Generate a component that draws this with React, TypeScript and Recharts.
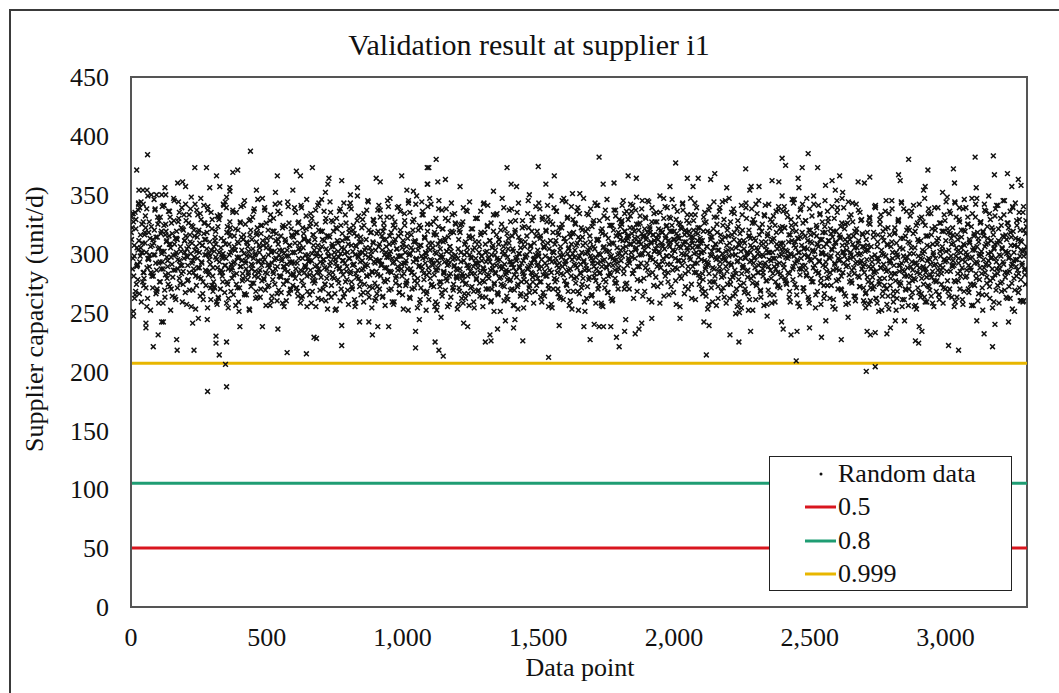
import { ScatterChart, Scatter, XAxis, YAxis, ReferenceLine, ReferenceArea, Legend } from 'recharts'

// axis ticks
const xTicks = [0, 500, 1000, 1500, 2000, 2500, 3000]
const yTicks = [0, 50, 100, 150, 200, 250, 300, 350, 400, 450]

// horizontal threshold lines
const thresholdLabels = ['0.5', '0.8', '0.999']
const thresholdValues = [50, 105, 207]
const scatterName = 'Random data'

// dense band of the cloud, lists per 300 data points (y values, in order)
const segmentStarts = [0, 300, 600, 900, 1200, 1500, 1800, 2100, 2400, 2700, 3000]
const segmentSpan = 300

const coreY0 = [312, 287, 334, 298, 265, 321, 305, 278, 342, 293, 316, 259, 301, 327, 284, 309, 271, 338, 296, 318, 289, 252, 323, 307, 281, 346, 299, 314, 268, 331, 292, 305, 276, 319, 340, 287, 302, 263, 325, 311, 294, 283, 336, 308, 270, 317, 299, 328, 286, 261, 313, 295, 344, 279, 306, 322, 290, 274, 333, 301, 315, 257, 297, 326, 284, 310, 348, 292, 269, 320, 303, 281, 337, 296, 318, 288, 264, 329, 307, 276, 341, 299, 312, 285, 254, 324, 300, 291, 335, 273]
const coreY1 = [288, 306, 271, 319, 295, 332, 262, 301, 284, 313, 297, 276, 341, 290, 308, 258, 323, 287, 299, 315, 268, 304, 337, 282, 293, 321, 274, 310, 296, 251, 327, 289, 303, 279, 316, 345, 292, 265, 309, 284, 328, 298, 272, 312, 290, 336, 281, 300, 318, 263, 294, 307, 286, 324, 277, 311, 297, 339, 269, 305, 283, 320, 291, 256, 314, 302, 278, 330, 295, 287, 317, 266, 308, 299, 343, 280, 296, 322, 274, 289, 312, 260, 303, 285, 326, 293, 270, 316, 301, 282]
const coreY2 = [301, 279, 318, 292, 264, 327, 305, 286, 339, 296, 273, 312, 288, 321, 255, 299, 310, 282, 334, 294, 268, 316, 303, 277, 325, 290, 307, 343, 284, 298, 261, 319, 295, 311, 274, 330, 287, 302, 266, 314, 293, 328, 280, 306, 297, 252, 322, 289, 309, 275, 336, 300, 285, 317, 263, 304, 292, 326, 278, 313, 296, 340, 283, 307, 270, 320, 291, 299, 258, 315, 286, 332, 301, 276, 310, 294, 267, 324, 289, 305, 281, 345, 297, 272, 318, 302, 285, 329, 293, 260]
const coreY3 = [295, 317, 282, 306, 270, 331, 291, 303, 264, 322, 288, 312, 297, 278, 340, 300, 285, 318, 259, 309, 293, 327, 275, 304, 289, 315, 267, 336, 298, 281, 311, 292, 324, 273, 306, 287, 345, 299, 262, 316, 284, 303, 329, 277, 310, 295, 254, 320, 290, 307, 271, 333, 296, 283, 314, 301, 266, 325, 288, 309, 279, 342, 294, 305, 272, 318, 286, 300, 257, 323, 292, 311, 276, 337, 297, 284, 313, 269, 302, 290, 328, 281, 306, 263, 319, 295, 274, 334, 299, 287]
const coreY4 = [286, 304, 271, 318, 293, 262, 327, 281, 299, 310, 275, 336, 290, 256, 313, 297, 283, 321, 268, 305, 292, 279, 330, 288, 301, 264, 316, 294, 277, 342, 285, 308, 270, 323, 296, 282, 311, 259, 299, 287, 319, 274, 303, 290, 334, 266, 312, 295, 280, 325, 289, 306, 272, 300, 284, 317, 261, 309, 293, 278, 338, 291, 302, 269, 320, 285, 297, 253, 314, 288, 305, 276, 328, 294, 281, 310, 265, 299, 287, 322, 273, 307, 292, 283, 331, 296, 268, 315, 290, 279]
const coreY5 = [298, 276, 315, 289, 331, 267, 305, 292, 320, 281, 309, 255, 296, 327, 284, 302, 270, 339, 293, 311, 278, 318, 288, 263, 306, 297, 325, 282, 313, 291, 344, 273, 300, 286, 317, 260, 308, 295, 329, 279, 303, 290, 336, 268, 314, 298, 284, 322, 274, 307, 293, 251, 319, 287, 301, 333, 280, 310, 296, 265, 326, 289, 304, 277, 341, 292, 312, 283, 299, 258, 321, 294, 306, 271, 316, 288, 330, 281, 302, 297, 262, 324, 290, 309, 275, 337, 295, 285, 318, 300]
const coreY6 = [312, 294, 328, 305, 283, 319, 301, 336, 290, 315, 270, 322, 308, 297, 341, 286, 313, 303, 325, 278, 310, 299, 332, 292, 317, 264, 306, 321, 288, 314, 345, 300, 282, 318, 309, 327, 295, 273, 311, 304, 335, 289, 316, 302, 258, 320, 307, 293, 330, 285, 313, 298, 339, 276, 308, 319, 291, 324, 303, 267, 312, 296, 329, 287, 315, 306, 281, 322, 300, 343, 294, 310, 272, 318, 305, 289, 326, 297, 314, 262, 309, 320, 284, 333, 301, 292, 317, 306, 279, 311]
const coreY7 = [301, 283, 319, 294, 268, 327, 306, 290, 337, 276, 312, 298, 259, 321, 287, 308, 295, 331, 272, 303, 289, 316, 280, 344, 297, 263, 314, 302, 285, 323, 292, 309, 274, 335, 299, 282, 318, 266, 305, 293, 328, 278, 311, 296, 254, 320, 288, 304, 270, 339, 300, 286, 315, 261, 307, 294, 326, 281, 313, 297, 342, 275, 303, 290, 322, 268, 310, 299, 284, 333, 292, 306, 257, 317, 289, 301, 329, 279, 312, 296, 265, 324, 287, 308, 273, 340, 298, 283, 319, 302]
const coreY8 = [305, 288, 322, 297, 274, 331, 310, 283, 316, 299, 346, 278, 307, 292, 325, 265, 313, 301, 287, 337, 296, 318, 271, 304, 290, 328, 281, 311, 298, 258, 320, 294, 309, 276, 342, 302, 285, 315, 268, 306, 293, 334, 279, 312, 300, 262, 323, 289, 308, 273, 330, 297, 284, 317, 303, 255, 319, 291, 310, 277, 339, 296, 286, 314, 270, 326, 301, 292, 321, 264, 307, 295, 344, 282, 312, 299, 275, 327, 288, 305, 260, 318, 293, 309, 280, 335, 300, 287, 316, 271]
const coreY9 = [291, 266, 312, 280, 303, 257, 325, 287, 297, 270, 318, 284, 339, 262, 306, 293, 276, 329, 288, 252, 314, 299, 273, 321, 285, 308, 264, 334, 292, 279, 310, 296, 259, 317, 283, 301, 268, 327, 290, 305, 275, 343, 286, 298, 261, 315, 294, 281, 322, 270, 309, 289, 336, 277, 300, 255, 319, 292, 284, 312, 267, 330, 296, 279, 303, 289, 263, 324, 287, 307, 273, 338, 295, 282, 316, 258, 301, 290, 320, 276, 311, 286, 265, 326, 298, 283, 306, 271, 333, 293]
const coreY10 = [302, 285, 321, 296, 270, 334, 308, 289, 316, 277, 343, 298, 263, 312, 292, 327, 281, 305, 295, 338, 268, 319, 301, 286, 331, 290, 309, 274, 323, 297, 256, 315, 303, 283, 347, 292, 310, 278, 326, 299, 265, 318, 288, 306, 336, 280, 313, 294, 272, 329, 301, 287, 320, 259, 308, 296, 341, 283, 311, 290, 275, 324, 305, 293, 333, 269, 316, 300, 284, 322, 297, 262, 314, 291, 339, 279, 307, 295, 328, 286, 312, 271, 320, 303, 290, 335, 298, 282, 317, 306]

// second pass over the same segments
const denseY0 = [318, 322, 296, 281, 307, 335, 329, 274, 290, 303, 311, 266, 298, 344, 325, 309, 284, 279, 316, 332, 301, 288, 262, 295, 327, 313, 306, 350, 283, 271, 299, 320, 338, 292, 286, 314, 304, 258, 276, 331, 317, 300, 293, 341, 324, 269, 282, 310, 297, 289, 336, 315, 272, 305, 326, 291, 280, 347, 308, 263, 299, 319, 312, 287, 330, 294, 275, 302, 339, 321, 285, 296, 311, 267, 328, 304, 290, 278, 333, 316, 300, 255, 309, 323, 284, 297, 342, 306, 273, 314, 288, 320, 301, 334, 279, 293, 307, 261, 326, 312, 286, 299, 318, 337, 282, 295, 310, 271, 303, 329]
const denseY1 = [281, 276, 302, 314, 297, 259, 288, 323, 331, 293, 270, 305, 299, 284, 342, 311, 267, 290, 296, 318, 274, 262, 308, 327, 301, 286, 279, 335, 292, 315, 303, 256, 283, 297, 320, 309, 271, 289, 340, 294, 277, 312, 300, 265, 325, 287, 298, 306, 282, 253, 316, 329, 291, 275, 304, 296, 338, 285, 268, 310, 322, 280, 293, 301, 263, 317, 290, 347, 307, 278, 295, 284, 326, 313, 272, 299, 288, 305, 333, 260, 292, 319, 283, 302, 274, 311, 296, 289, 336, 269, 303, 281, 315, 294, 258, 324, 300, 286, 310, 277, 291, 344, 298, 266, 307, 282, 321, 293, 273, 314]
const denseY2 = [292, 309, 287, 271, 318, 326, 296, 283, 302, 341, 277, 264, 305, 313, 290, 299, 332, 281, 268, 311, 294, 323, 286, 258, 300, 316, 307, 275, 289, 337, 298, 284, 262, 320, 303, 293, 280, 346, 312, 270, 295, 288, 327, 304, 279, 253, 315, 298, 290, 335, 273, 306, 284, 319, 301, 266, 292, 330, 311, 278, 297, 287, 260, 324, 305, 294, 282, 343, 300, 276, 313, 289, 269, 308, 321, 296, 285, 338, 272, 302, 291, 317, 255, 283, 306, 328, 298, 279, 310, 293, 265, 322, 301, 287, 334, 274, 299, 312, 281, 290, 344, 263, 305, 296, 318, 284, 271, 309, 325, 292]
const denseY3 = [303, 285, 272, 319, 294, 308, 337, 281, 290, 263, 312, 326, 299, 276, 306, 288, 345, 297, 269, 315, 302, 284, 331, 292, 257, 310, 322, 279, 295, 304, 286, 340, 273, 298, 317, 291, 265, 308, 283, 328, 301, 294, 277, 313, 252, 299, 335, 287, 305, 270, 320, 293, 282, 311, 342, 296, 275, 303, 289, 324, 261, 307, 298, 286, 333, 278, 314, 292, 300, 268, 319, 305, 284, 347, 295, 273, 309, 290, 327, 282, 301, 259, 316, 294, 288, 338, 276, 304, 297, 267, 321, 310, 285, 293, 330, 279, 302, 255, 314, 291, 306, 283, 343, 298, 271, 318, 289, 296, 325, 280]
const denseY4 = [279, 296, 312, 268, 287, 301, 325, 283, 258, 294, 308, 274, 337, 290, 281, 266, 315, 299, 285, 321, 272, 303, 289, 254, 310, 296, 278, 330, 292, 269, 306, 284, 318, 298, 263, 288, 343, 276, 301, 293, 281, 324, 270, 297, 311, 286, 260, 305, 290, 333, 275, 299, 283, 316, 267, 294, 308, 279, 251, 320, 287, 302, 273, 339, 291, 282, 309, 264, 297, 313, 285, 277, 327, 293, 270, 304, 288, 256, 318, 296, 280, 335, 274, 300, 289, 311, 266, 292, 322, 283, 278, 306, 298, 261, 315, 287, 345, 271, 302, 290, 284, 328, 276, 295, 309, 268, 299, 282, 319, 291]
const denseY5 = [300, 287, 313, 276, 295, 329, 282, 306, 264, 298, 319, 290, 341, 273, 304, 286, 311, 257, 293, 325, 301, 279, 308, 296, 336, 284, 270, 316, 292, 303, 262, 322, 289, 299, 347, 277, 310, 294, 285, 331, 268, 305, 297, 314, 281, 253, 300, 318, 291, 326, 275, 307, 288, 339, 296, 266, 312, 283, 301, 320, 279, 294, 259, 309, 290, 334, 272, 303, 286, 315, 298, 264, 323, 292, 306, 280, 343, 297, 287, 311, 270, 300, 328, 284, 293, 256, 317, 305, 278, 295, 337, 289, 302, 267, 313, 291, 324, 282, 298, 309, 261, 320, 294, 286, 332, 275, 305, 299, 288, 316]
const denseY6 = [316, 303, 325, 298, 311, 287, 334, 319, 306, 275, 313, 329, 294, 308, 342, 301, 317, 283, 322, 310, 296, 337, 305, 268, 314, 320, 289, 326, 308, 299, 345, 315, 279, 303, 331, 312, 292, 318, 306, 261, 323, 297, 310, 339, 284, 316, 302, 327, 293, 313, 307, 272, 321, 300, 335, 288, 309, 318, 296, 347, 304, 281, 315, 324, 291, 311, 265, 306, 330, 298, 319, 286, 312, 340, 302, 277, 317, 308, 294, 326, 313, 255, 305, 321, 290, 337, 299, 316, 283, 310, 328, 303, 270, 319, 307, 295, 333, 311, 289, 314, 300, 343, 318, 284, 306, 322, 297, 274, 313, 309]
const denseY7 = [295, 311, 278, 302, 326, 287, 264, 306, 319, 292, 283, 340, 299, 271, 314, 288, 305, 331, 276, 297, 256, 318, 303, 285, 336, 293, 310, 268, 300, 324, 281, 296, 345, 289, 307, 274, 315, 298, 262, 327, 291, 304, 280, 338, 312, 286, 299, 270, 321, 294, 308, 259, 317, 302, 283, 333, 290, 275, 309, 297, 343, 285, 301, 266, 320, 293, 313, 279, 305, 252, 329, 296, 288, 311, 273, 334, 300, 284, 316, 292, 263, 307, 325, 281, 298, 290, 341, 277, 303, 315, 269, 295, 322, 286, 310, 258, 301, 332, 289, 296, 276, 318, 304, 284, 337, 292, 271, 309, 299, 323]
const denseY8 = [309, 291, 322, 277, 303, 335, 296, 284, 316, 268, 300, 329, 311, 287, 343, 298, 274, 305, 319, 293, 258, 313, 301, 282, 338, 307, 290, 326, 271, 299, 315, 286, 347, 304, 263, 320, 295, 310, 279, 332, 302, 288, 317, 297, 254, 324, 308, 283, 341, 294, 312, 275, 301, 327, 290, 306, 266, 318, 299, 285, 336, 311, 280, 296, 321, 273, 304, 314, 261, 330, 292, 309, 287, 345, 300, 278, 316, 295, 323, 269, 307, 284, 339, 298, 312, 257, 303, 326, 290, 315, 276, 301, 333, 286, 308, 297, 264, 319, 292, 342, 305, 281, 311, 299, 272, 328, 294, 317, 289, 306]
const denseY9 = [284, 302, 267, 295, 318, 276, 289, 331, 260, 306, 293, 280, 314, 272, 299, 341, 285, 258, 310, 296, 274, 325, 288, 303, 264, 319, 291, 279, 336, 298, 270, 307, 286, 253, 316, 294, 283, 345, 301, 268, 290, 322, 277, 309, 262, 297, 328, 285, 273, 313, 292, 255, 304, 338, 281, 296, 269, 320, 288, 310, 275, 300, 332, 263, 293, 286, 317, 279, 305, 256, 324, 290, 271, 298, 342, 283, 311, 266, 295, 327, 287, 302, 259, 315, 280, 294, 334, 272, 306, 291, 264, 321, 285, 299, 277, 339, 296, 268, 308, 282, 313, 261, 290, 326, 274, 303, 288, 319, 295, 270]
const denseY10 = [311, 294, 277, 318, 303, 336, 285, 298, 263, 322, 309, 290, 344, 276, 305, 316, 283, 296, 329, 270, 301, 314, 288, 257, 320, 307, 293, 339, 281, 299, 325, 267, 310, 296, 286, 347, 303, 274, 317, 292, 331, 279, 306, 260, 313, 298, 288, 327, 302, 271, 319, 295, 342, 284, 308, 265, 323, 300, 290, 334, 277, 311, 297, 254, 316, 305, 282, 338, 293, 309, 273, 321, 299, 287, 330, 268, 304, 315, 291, 345, 280, 302, 312, 262, 326, 296, 285, 318, 307, 275, 340, 294, 301, 269, 313, 289, 324, 306, 283, 335, 298, 278, 310, 292, 259, 320, 303, 287, 328, 300]

// third pass, fills the edges of the band
const fillY0 = [331, 334, 327, 262, 268, 289, 291, 343, 339, 305, 301, 276, 273, 318, 322, 255, 349, 296, 299, 284, 281, 312, 309, 337, 266, 270, 325, 328, 293, 287, 302, 258, 341, 316, 319, 279, 274, 308, 331, 297, 264, 286, 345, 313, 301, 271, 327, 335, 290, 283, 259, 320, 311, 342, 298, 277, 306, 269, 338, 324, 294, 287, 315, 253, 302, 333, 280, 309, 347, 292, 266, 317, 326, 273, 304, 340, 285, 298, 261, 321]
const fillY1 = [268, 272, 311, 308, 257, 263, 329, 333, 286, 281, 300, 297, 344, 339, 276, 254, 318, 322, 291, 288, 265, 306, 303, 335, 271, 259, 297, 326, 314, 283, 341, 266, 294, 310, 278, 302, 252, 320, 287, 331, 275, 299, 262, 316, 346, 284, 305, 270, 324, 293, 279, 337, 256, 309, 290, 273, 328, 301, 264, 285, 319, 342, 296, 260, 312, 281, 334, 267, 303, 289, 255, 323, 298, 277, 340, 307, 269, 292, 315, 283]
const fillY2 = [339, 335, 271, 268, 304, 309, 258, 262, 322, 317, 284, 289, 346, 296, 293, 265, 326, 330, 277, 281, 312, 255, 300, 341, 287, 269, 319, 306, 292, 336, 274, 260, 315, 298, 283, 344, 263, 308, 327, 279, 295, 253, 321, 302, 288, 338, 270, 311, 294, 266, 333, 285, 301, 257, 318, 343, 276, 290, 324, 261, 307, 280, 349, 297, 272, 314, 286, 329, 259, 303, 291, 337, 267, 320, 282, 299, 254, 310, 328, 275]
const fillY3 = [262, 266, 337, 341, 294, 290, 315, 319, 277, 256, 301, 331, 285, 308, 347, 270, 296, 324, 259, 312, 281, 339, 298, 267, 320, 287, 305, 253, 334, 292, 275, 317, 343, 263, 300, 284, 327, 310, 271, 295, 349, 279, 306, 258, 322, 289, 336, 268, 313, 297, 282, 340, 261, 303, 325, 274, 292, 316, 255, 330, 286, 308, 345, 272, 299, 264, 321, 283, 311, 338, 277, 294, 257, 318, 302, 333, 269, 290, 326, 281]
const fillY4 = [253, 257, 320, 324, 281, 277, 339, 266, 262, 301, 305, 288, 344, 271, 296, 314, 259, 283, 330, 292, 268, 310, 275, 336, 298, 255, 287, 318, 263, 302, 341, 279, 293, 326, 270, 307, 251, 284, 333, 296, 265, 312, 289, 274, 347, 299, 260, 321, 286, 278, 304, 337, 269, 291, 315, 256, 282, 328, 294, 272, 343, 300, 264, 310, 285, 254, 323, 297, 276, 334, 289, 267, 306, 319, 280, 258, 295, 340, 273, 303]
const fillY5 = [343, 338, 263, 259, 310, 306, 285, 281, 327, 331, 270, 295, 349, 254, 318, 301, 276, 336, 290, 266, 322, 299, 283, 345, 261, 313, 293, 274, 330, 304, 256, 287, 340, 317, 268, 297, 325, 280, 309, 252, 334, 291, 271, 314, 347, 286, 300, 262, 321, 278, 305, 338, 265, 294, 328, 283, 258, 312, 341, 273, 299, 319, 289, 255, 332, 303, 276, 346, 267, 308, 284, 324, 260, 296, 337, 279, 315, 292, 270, 329]
const fillY6 = [323, 327, 341, 345, 270, 274, 311, 315, 296, 292, 332, 336, 283, 262, 319, 304, 348, 289, 325, 310, 277, 338, 300, 314, 268, 330, 307, 286, 344, 321, 296, 259, 316, 334, 302, 280, 327, 312, 291, 349, 275, 318, 306, 264, 340, 323, 298, 284, 331, 310, 272, 346, 303, 319, 288, 257, 336, 313, 294, 325, 279, 342, 308, 266, 320, 299, 333, 285, 316, 347, 274, 305, 328, 292, 261, 339, 311, 282, 322, 301]
const fillY7 = [270, 266, 331, 335, 289, 293, 253, 257, 318, 314, 302, 276, 344, 281, 308, 325, 262, 297, 339, 285, 312, 271, 329, 294, 258, 320, 303, 347, 278, 290, 316, 264, 334, 299, 283, 255, 323, 307, 273, 341, 288, 311, 267, 296, 330, 280, 252, 315, 301, 338, 275, 292, 326, 261, 305, 284, 345, 298, 269, 319, 287, 256, 332, 310, 277, 301, 342, 265, 294, 327, 283, 313, 259, 336, 291, 272, 306, 322, 280, 349]
const fillY8 = [336, 340, 279, 275, 302, 298, 263, 259, 324, 320, 289, 346, 310, 271, 295, 331, 255, 314, 287, 342, 268, 305, 328, 282, 297, 261, 338, 316, 276, 303, 349, 290, 265, 322, 308, 284, 333, 257, 300, 318, 273, 345, 293, 279, 327, 311, 262, 298, 340, 286, 306, 253, 319, 335, 270, 294, 313, 281, 347, 302, 266, 325, 289, 310, 258, 331, 296, 277, 343, 315, 283, 264, 321, 300, 337, 272, 292, 329, 306, 260]
const fillY9 = [258, 254, 303, 307, 326, 330, 271, 275, 289, 285, 340, 262, 296, 316, 251, 279, 333, 300, 268, 311, 287, 345, 257, 322, 294, 273, 306, 338, 264, 283, 318, 252, 299, 329, 276, 290, 344, 261, 313, 285, 270, 336, 297, 256, 320, 281, 305, 267, 341, 292, 278, 253, 326, 310, 288, 263, 331, 300, 274, 347, 284, 259, 315, 296, 269, 334, 280, 308, 255, 323, 291, 277, 339, 265, 302, 286, 319, 258, 295, 328]
const fillY10 = [344, 348, 268, 264, 317, 313, 290, 294, 255, 259, 331, 302, 277, 339, 285, 320, 261, 308, 346, 280, 297, 325, 270, 312, 288, 256, 334, 305, 273, 342, 293, 318, 266, 300, 327, 283, 252, 315, 337, 291, 275, 309, 349, 262, 296, 322, 279, 304, 332, 269, 287, 341, 258, 310, 298, 276, 345, 314, 284, 263, 326, 301, 272, 336, 289, 253, 319, 307, 343, 281, 295, 267, 329, 311, 260, 302, 340, 286, 274, 323]

// scattered points above the band, [data point, capacity]
const upperPoints = [
  [61, 384], [21, 371], [440, 387], [235, 373], [278, 373], [668, 373], [1091, 373], [375, 369], [393, 371], [315, 366],
  [539, 366], [609, 370], [624, 366], [729, 364], [776, 362], [903, 364], [918, 361], [997, 366], [29, 354], [44, 354],
  [59, 354], [125, 356], [172, 360], [190, 361], [201, 357], [94, 350], [113, 350], [128, 350], [290, 356], [327, 357],
  [364, 356], [364, 353], [352, 348], [462, 354], [532, 352], [596, 354], [716, 352], [725, 359], [834, 356], [808, 350],
  [1016, 354], [1040, 353], [1091, 359], [45, 342], [27, 337], [1124, 380], [1097, 373], [1385, 373], [1500, 374], [1724, 382],
  [2006, 377], [1559, 366], [1831, 366], [1861, 364], [2049, 364], [2089, 364], [2135, 363], [2150, 368], [1130, 361], [1158, 363],
  [1093, 359], [1400, 359], [1420, 357], [1212, 357], [1335, 353], [1528, 359], [1739, 359], [1779, 360], [1985, 357], [2070, 357],
  [1467, 350], [1626, 351], [1653, 351], [1071, 344], [2494, 385], [2398, 381], [2411, 375], [2264, 372], [2472, 373], [2529, 373],
  [2864, 380], [2935, 371], [3029, 372], [3109, 382], [3176, 383], [3180, 367], [3228, 368], [2194, 356], [2361, 362], [2386, 361],
  [2457, 364], [2460, 356], [2582, 362], [2610, 366], [2678, 361], [2701, 360], [2721, 365], [2827, 367], [2833, 362], [3033, 360],
  [3268, 363], [3278, 358], [3244, 357], [2279, 354], [2313, 357], [2284, 357], [2558, 358], [2594, 354], [2621, 352], [2919, 354],
  [2925, 357], [2989, 352], [3113, 356],
]

// scattered points below the band
const lowerPoints = [
  [282, 183], [352, 187], [348, 206], [325, 214], [313, 230], [313, 224], [352, 225], [82, 221], [168, 227], [170, 218],
  [232, 218], [100, 231], [55, 241], [55, 237], [113, 242], [119, 242], [227, 241], [575, 216], [646, 215], [674, 229],
  [683, 228], [541, 236], [484, 238], [401, 238], [776, 222], [776, 239], [889, 231], [842, 242], [876, 242], [909, 238],
  [949, 238], [1048, 220], [1048, 234], [146, 252], [248, 245], [281, 244], [9, 251], [9, 247], [1120, 225], [1134, 218],
  [1150, 213], [1305, 225], [1326, 226], [1322, 231], [1443, 226], [1538, 212], [1691, 227], [1788, 229], [1798, 221], [2119, 214],
  [1142, 246], [1350, 236], [1409, 237], [1414, 244], [1379, 243], [1225, 241], [1240, 238], [1577, 239], [1668, 238], [1706, 240],
  [1724, 238], [1740, 238], [1767, 238], [1818, 234], [1857, 232], [1871, 236], [1881, 241], [2110, 242], [2129, 239], [1087, 252],
  [1126, 252], [1062, 244], [2022, 245], [1918, 245], [1822, 244], [2450, 209], [2708, 200], [2741, 204], [2206, 231], [2239, 225],
  [2282, 234], [2402, 236], [2431, 231], [2453, 234], [2499, 237], [2543, 229], [2616, 227], [2711, 234], [2723, 231], [2741, 233],
  [2784, 232], [2797, 237], [2889, 226], [2901, 224], [2903, 238], [2913, 234], [3011, 222], [3048, 218], [3142, 232], [3173, 221],
  [3182, 240], [3232, 242], [3254, 251], [2396, 242], [2559, 243], [2641, 246], [2815, 243], [2849, 243], [3115, 243], [2343, 247],
  [2227, 249], [2241, 250], [3275, 260], [3287, 260],
]

const COLORS = {
  red: '#d9161f',
  green: '#1f9d73',
  yellow: '#e8b600',
  axis: '#555555',
  frame: '#3a3a3a',
  text: '#111111',
}
const lineColors = [COLORS.red, COLORS.green, COLORS.yellow]
const FONT = '"Liberation Serif", "Times New Roman", serif'

const coreSegments = [
  coreY0, coreY1, coreY2, coreY3, coreY4, coreY5, coreY6, coreY7, coreY8, coreY9, coreY10,
  denseY0, denseY1, denseY2, denseY3, denseY4, denseY5, denseY6, denseY7, denseY8, denseY9, denseY10,
  fillY0, fillY1, fillY2, fillY3, fillY4, fillY5, fillY6, fillY7, fillY8, fillY9, fillY10,
]

const randomPoints = [
  ...coreSegments.flatMap((ys, s) =>
    ys.map((y, i) => ({
      x: segmentStarts[s % segmentStarts.length] + Math.round(((i + 0.5) * segmentSpan) / ys.length),
      y,
    }))
  ),
  ...upperPoints.map(([x, y]) => ({ x, y })),
  ...lowerPoints.map(([x, y]) => ({ x, y })),
]

function XMark(props: any) {
  const { cx, cy } = props
  if (cx == null || cy == null) return null
  const r = 2.4
  return (
    <path
      d={`M${cx - r},${cy - r}L${cx + r},${cy + r}M${cx + r},${cy - r}L${cx - r},${cy + r}`}
      stroke={COLORS.text}
      strokeWidth={1.5}
      fill="none"
    />
  )
}

function ChartLegend() {
  const labels = [scatterName, ...thresholdLabels]
  return (
    <div
      style={{
        position: 'relative',
        width: 243,
        height: 135,
        boxSizing: 'border-box',
        border: '1.5px solid #222',
        background: '#fff',
        fontFamily: FONT,
        fontSize: 26,
        color: COLORS.text,
      }}
    >
      {labels.map((label, i) => (
        <div key={label} style={{ position: 'absolute', left: 0, top: i * 33.4, width: '100%', height: 33 }}>
          <svg width={70} height={33} style={{ position: 'absolute', left: 0, top: 0 }}>
            {i === 0 ? (
              <circle cx={51} cy={17} r={1.5} fill={COLORS.text} />
            ) : (
              <line x1={35} x2={66} y1={17} y2={17} stroke={lineColors[i - 1]} strokeWidth={3} />
            )}
          </svg>
          <span style={{ position: 'absolute', left: 68, top: 0, lineHeight: '33px', whiteSpace: 'nowrap' }}>{label}</span>
        </div>
      ))}
    </div>
  )
}

export default function App() {
  return (
    <div
      style={{
        position: 'absolute',
        left: 0,
        top: 0,
        width: 1059,
        height: 693,
        overflow: 'hidden',
        background: '#fff',
        fontFamily: FONT,
      }}
    >
      <div
        style={{
          position: 'absolute',
          left: 9,
          top: 9,
          width: 1100,
          height: 760,
          border: `2px solid ${COLORS.frame}`,
        }}
      />
      <div
        style={{
          position: 'absolute',
          left: 0,
          top: 30,
          width: 1058,
          textAlign: 'center',
          fontSize: 30,
          lineHeight: '30px',
          color: COLORS.text,
        }}
      >
        Validation result at supplier i1
      </div>
      <div style={{ position: 'absolute', left: 0, top: 0 }}>
        <ScatterChart width={1059} height={693} margin={{ top: 77, right: 32, bottom: 26, left: 51 }}>
          <XAxis
            type="number"
            dataKey="x"
            domain={[0, 3300]}
            ticks={xTicks}
            tickFormatter={(v: number) => v.toLocaleString('en-US')}
            height={60}
            tickLine={false}
            tickSize={0}
            tickMargin={21}
            axisLine={{ stroke: COLORS.axis, strokeWidth: 2 }}
            tick={{ fill: COLORS.text, fontSize: 26, fontFamily: FONT }}
            allowDataOverflow
            label={{
              content: () => (
                <text x={580} y={676} textAnchor="middle" fontSize={26} fontFamily={FONT} fill={COLORS.text}>
                  Data point
                </text>
              ),
            }}
          />
          <YAxis
            type="number"
            dataKey="y"
            domain={[0, 450]}
            ticks={yTicks}
            width={80}
            tickLine={false}
            tickSize={0}
            tickMargin={22}
            axisLine={{ stroke: COLORS.axis, strokeWidth: 2 }}
            tick={{ fill: COLORS.text, fontSize: 26, fontFamily: FONT }}
            allowDataOverflow
            label={{
              content: () => (
                <text
                  x={43}
                  y={452}
                  transform="rotate(-90 43 452)"
                  textAnchor="start"
                  fontSize={26}
                  fontFamily={FONT}
                  fill={COLORS.text}
                >
                  Supplier capacity (unit/d)
                </text>
              ),
            }}
          />
          <ReferenceArea
            x1={0}
            x2={3300}
            y1={0}
            y2={450}
            fill="none"
            stroke={COLORS.axis}
            strokeWidth={2}
            ifOverflow="visible"
          />
          <Scatter
            name={scatterName}
            data={randomPoints}
            shape={XMark}
            isAnimationActive={false}
          />
          {thresholdValues.map((v, i) => (
            <ReferenceLine key={thresholdLabels[i]} y={v} stroke={lineColors[i]} strokeWidth={3} />
          ))}
          <Legend
            layout="horizontal"
            verticalAlign="middle"
            align="center"
            content={() => <ChartLegend />}
            wrapperStyle={{ left: 769, top: 456, width: 243, height: 135 }}
          />
        </ScatterChart>
      </div>
    </div>
  )
}
